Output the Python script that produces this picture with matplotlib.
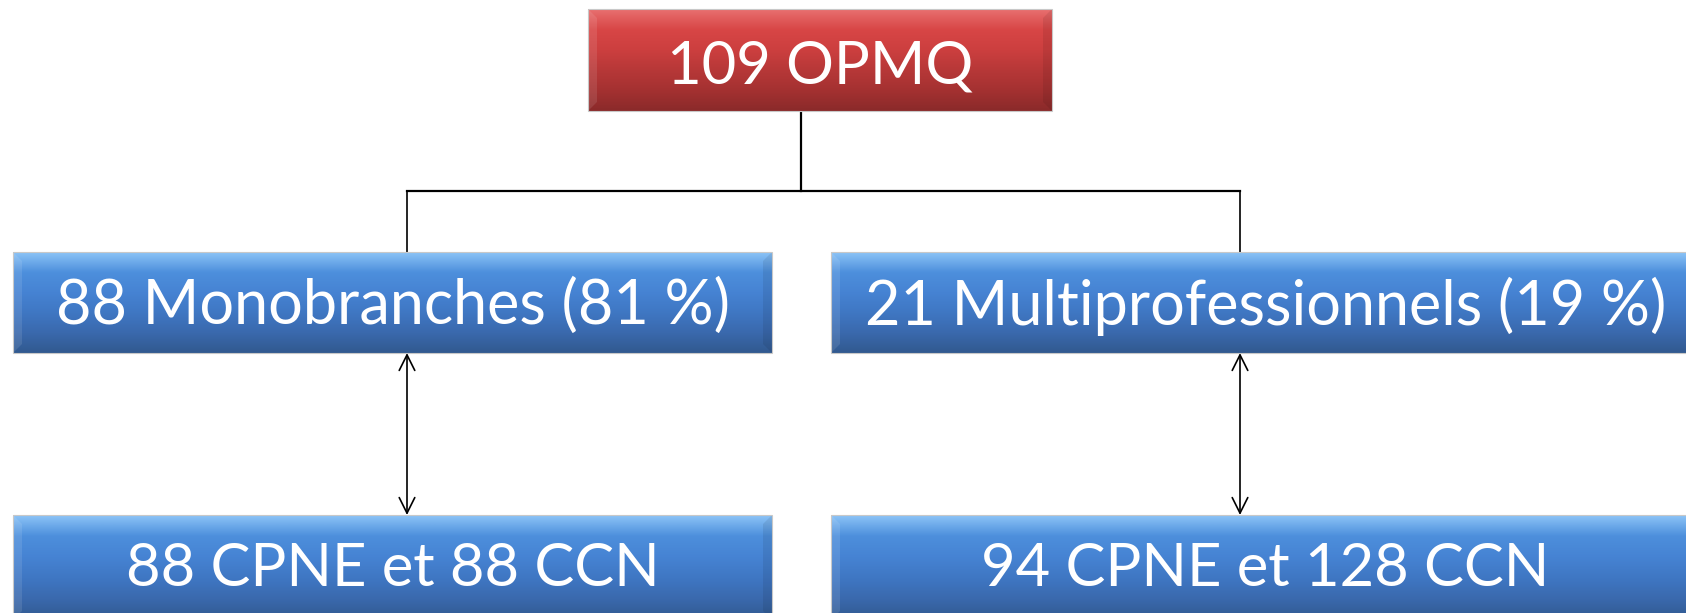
import numpy as np
import matplotlib.pyplot as plt
from matplotlib.patches import Rectangle, Polygon
from matplotlib.colors import LinearSegmentedColormap

# =========================
# Chart content
# =========================

top_label = "109 OPMQ"
middle_labels = ["88 Monobranches (81 %)", "21 Multiprofessionnels (19 %)"]
bottom_labels = ["88 CPNE et 88 CCN", "94 CPNE et 128 CCN"]

# pixel layout (figure is drawn in pixel coordinates, y going down)
W, H = 1686, 613
top_box = (588, 9, 1052, 111)
col_boxes = [(13, 772), (831, 1700)]
mid_y = (252, 353)
bot_y = (515, 620)
col_x = [407, 1240]
trunk_x = 801
bus_y = 191

red_cmap = LinearSegmentedColormap.from_list(
    "red", ["#e87070", "#d84646", "#cc3f3f", "#b73838", "#a43131", "#8a2a2a"]
)
blue_cmap = LinearSegmentedColormap.from_list(
    "blue", ["#8cc4f7", "#4d8fdc", "#4683d3", "#3f77c3", "#3a69ad", "#31598f"]
)

fig = plt.figure(figsize=(W / 100, H / 100), dpi=100)
ax = fig.add_axes([0, 0, 1, 1])
ax.set_xlim(0, W)
ax.set_ylim(H, 0)
ax.axis("off")

grad = np.linspace(0, 1, 256).reshape(-1, 1)


def draw_box(x0, y0, x1, y1, cmap, label, fontsize, dy=4):
    ax.imshow(grad, cmap=cmap, extent=(x0, x1, y1, y0), aspect="auto",
              interpolation="bicubic", zorder=2)
    # bevel edges
    b = 9
    ax.add_patch(Polygon([(x0, y0), (x0 + b, y0 + b), (x0 + b, y1 - b), (x0, y1)],
                         closed=True, facecolor="white", alpha=0.10,
                         edgecolor="none", zorder=3))
    ax.add_patch(Polygon([(x1, y0), (x1 - b, y0 + b), (x1 - b, y1 - b), (x1, y1)],
                         closed=True, facecolor="black", alpha=0.08,
                         edgecolor="none", zorder=3))
    ax.add_patch(Rectangle((x0, y0), x1 - x0, y1 - y0, facecolor="none",
                           edgecolor="#c8c8c8", linewidth=0.8, zorder=4))
    ax.text((x0 + x1) / 2, (y0 + y1) / 2 + dy, label, color="white",
            fontsize=fontsize, family="Lato", ha="center", va="center",
            zorder=5)


# connectors
ax.plot([trunk_x, trunk_x], [top_box[3], bus_y], color="black", lw=1.6, zorder=1)
ax.plot([col_x[0], col_x[1]], [bus_y, bus_y], color="black", lw=1.6, zorder=1)
for cx in col_x:
    ax.plot([cx, cx], [bus_y, mid_y[0]], color="black", lw=1.2, zorder=1)
    ax.annotate("", xy=(cx, mid_y[1]), xytext=(cx, bot_y[0]),
                arrowprops=dict(arrowstyle="<->", color="black", lw=1.2,
                                mutation_scale=28, shrinkA=0, shrinkB=0),
                zorder=1)

draw_box(*top_box, red_cmap, top_label, 43, dy=6)
for (x0, x1), mlab, blab in zip(col_boxes, middle_labels, bottom_labels):
    draw_box(x0, mid_y[0], x1, mid_y[1], blue_cmap, mlab, 44)
    draw_box(x0, bot_y[0], x1, bot_y[1], blue_cmap, blab, 43, dy=1)

ax.set_xlim(0, W)
ax.set_ylim(H, 0)

fig.savefig("out.png", dpi=100)
